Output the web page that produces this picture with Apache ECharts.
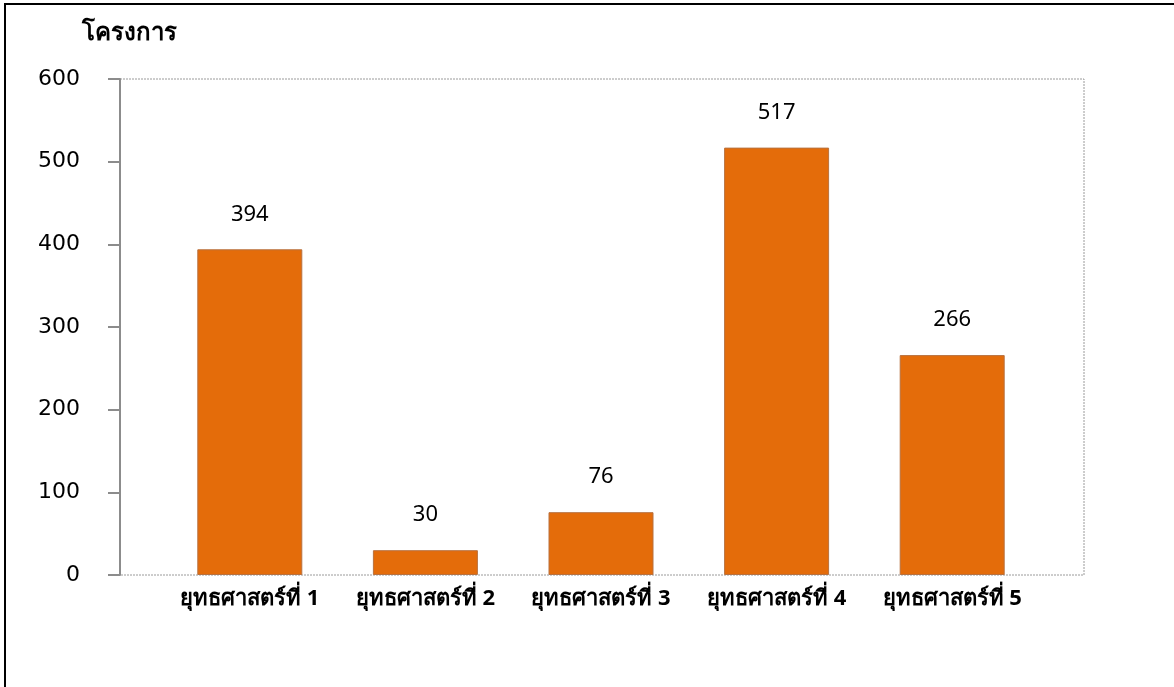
<!DOCTYPE html>
<html>
<head>
<meta charset="utf-8">
<script src="https://cdn.jsdelivr.net/npm/echarts@6/dist/echarts.min.js"></script>
<style>
  html, body { margin: 0; padding: 0; background: #fff; }
  #chart { width: 1174px; height: 687px; }
</style>
</head>
<body>
<div id="chart"></div>
<script>
// ข้อมูล
const categories = ['ยุทธศาสตร์ที่ 1', 'ยุทธศาสตร์ที่ 2', 'ยุทธศาสตร์ที่ 3', 'ยุทธศาสตร์ที่ 4', 'ยุทธศาสตร์ที่ 5']
const projectCounts = [394, 30, 76, 517, 266]
const yTicks = [0, 100, 200, 300, 400, 500, 600]

const FONT = '"Noto Sans", "DejaVu Sans", sans-serif'
const NUM_FONT = '"DejaVu Sans", "Noto Sans", sans-serif'

const myChart = echarts.init(document.getElementById('chart'), null, { renderer: 'canvas' })

const option = {
  backgroundColor: '#fff',
  animation: false,
  grid: {
    left: 162,
    right: 134,
    top: 79,
    bottom: 112
  },
  graphic: [
    // กรอบพื้นที่กราฟ (เส้นประ)
    {
      type: 'rect',
      shape: { x: 120, y: 79, width: 964, height: 496 },
      style: { fill: 'none', stroke: '#9a9a9a', lineWidth: 1, lineDash: [2, 1] },
      z: 0
    },
    // ขอบนอก ซ้าย + บน
    {
      type: 'polyline',
      shape: { points: [[5, 687], [5, 4], [1174, 4]] },
      style: { stroke: '#000', lineWidth: 2, fill: 'none' },
      z: 10
    },
    {
      type: 'text',
      left: 82,
      top: 21,
      style: { text: 'โครงการ', font: 'bold 24px ' + FONT, fill: '#000' }
    }
  ],
  xAxis: {
    type: 'category',
    data: categories,
    axisLine: { show: false },
    axisTick: { show: false },
    axisLabel: {
      color: '#000',
      fontSize: 22,
      fontWeight: 'bold',
      fontFamily: FONT,
      margin: 13,
      interval: 0
    }
  },
  yAxis: {
    type: 'value',
    min: yTicks[0],
    max: yTicks[yTicks.length - 1],
    interval: 100,
    offset: 42,
    splitLine: { show: false },
    axisLine: { show: true, lineStyle: { color: '#8c8c8c', width: 2 } },
    axisTick: { show: true, length: 12, lineStyle: { color: '#8c8c8c', width: 2 } },
    axisLabel: {
      color: '#000',
      fontSize: 22,
      fontFamily: NUM_FONT,
      margin: 40
    }
  },
  series: [
    {
      type: 'bar',
      data: projectCounts,
      barWidth: 105,
      itemStyle: {
        color: '#E46C0A',
        borderColor: '#B8713F',
        borderWidth: 1
      },
      label: {
        show: true,
        position: 'top',
        distance: 24,
        color: '#000',
        fontSize: 22,
        fontFamily: FONT
      }
    }
  ]
}

myChart.setOption(option)
</script>
</body>
</html>
